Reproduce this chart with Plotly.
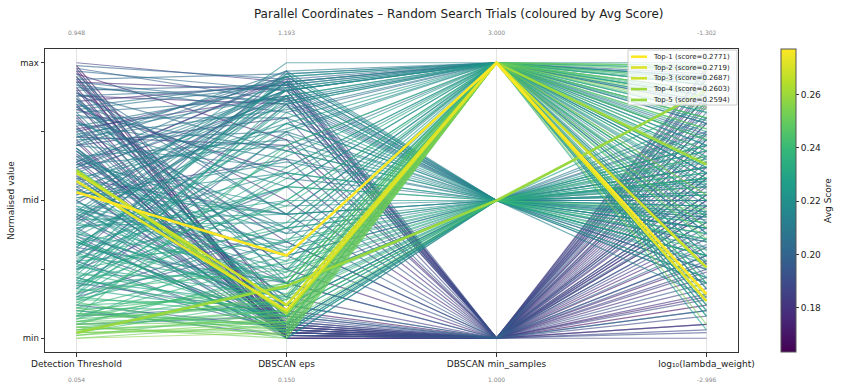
import plotly.graph_objects as go
from plotly.colors import sample_colorscale

# ---------------- data (normalised positions) ----------------
axis_names = ["Detection Threshold", "DBSCAN eps", "DBSCAN min_samples", "log₁₀(lambda_weight)"]
axis_max_labels = ["0.948", "1.193", "3.000", "-1.302"]
axis_min_labels = ["0.054", "0.150", "1.000", "-2.996"]
ms_levels = [1, 2, 3]

# ---- trials with min_samples = 1 ----
dt_ms1 = [
    0.98, 0.95, 0.90, 0.85, 0.80, 0.77, 0.72, 0.68, 0.64, 0.60,
    0.55, 0.50, 0.45, 0.40, 0.35, 0.28, 0.20, 0.12, 0.93, 0.88,
    0.75, 0.70, 0.62, 0.96, 0.83, 0.58, 0.47, 0.33, 0.25, 0.15,
    0.08, 0.42, 0.66, 0.99, 0.52, 0.30, 0.18, 0.87,
    0.97, 0.91, 0.86, 0.81, 0.76, 0.71, 0.67, 0.63, 0.59, 0.54,
    0.49, 0.44, 0.38, 0.32, 0.27, 0.22, 0.16, 0.10, 0.05, 0.89,
    0.79, 0.73, 0.65, 0.56, 0.43, 0.37, 0.94, 0.84, 0.69, 0.61,
]
eps_ms1 = [
    0.02, 0.00, 0.04, 0.01, 0.06, 0.03, 0.00, 0.08, 0.02, 0.05,
    0.01, 0.07, 0.03, 0.00, 0.05, 0.02, 0.09, 0.04, 0.90, 0.85,
    0.93, 0.80, 0.95, 0.72, 0.60, 0.45, 0.30, 0.20, 0.55, 0.35,
    0.12, 0.88, 0.15, 0.10, 0.65, 0.97, 0.75, 0.25,
    0.01, 0.03, 0.92, 0.00, 0.88, 0.02, 0.05, 0.94, 0.01, 0.04,
    0.90, 0.02, 0.12, 0.06, 0.85, 0.03, 0.40, 0.01, 0.08, 0.50,
    0.00, 0.70, 0.03, 0.20, 0.93, 0.01, 0.04, 0.35, 0.02, 0.87,
]
lam_ms1 = [
    0.45, 0.12, 0.80, 0.33, 0.62, 0.05, 0.91, 0.25, 0.70, 0.50,
    0.18, 0.85, 0.40, 0.58, 0.08, 0.75, 0.30, 0.95, 0.22, 0.66,
    0.48, 0.03, 0.88, 0.36, 0.55, 0.14, 0.72, 0.42, 0.60, 0.10,
    0.82, 0.28, 0.98, 0.52, 0.00, 0.92, 0.46, 0.78,
    0.60, 0.27, 0.84, 0.15, 0.50, 0.94, 0.38, 0.72, 0.05, 0.56,
    0.30, 0.88, 0.64, 0.20, 0.45, 0.78, 0.10, 0.52, 0.34, 0.68,
    0.97, 0.24, 0.42, 0.86, 0.58, 0.02, 0.74, 0.16, 0.48, 0.90,
]
score_ms1 = [
    0.170, 0.166, 0.175, 0.172, 0.180, 0.178, 0.176, 0.185, 0.182, 0.188,
    0.184, 0.190, 0.186, 0.192, 0.189, 0.194, 0.196, 0.193, 0.178, 0.181,
    0.183, 0.187, 0.185, 0.174, 0.179, 0.190, 0.193, 0.197, 0.195, 0.198,
    0.200, 0.191, 0.184, 0.168, 0.188, 0.192, 0.196, 0.177,
    0.171, 0.174, 0.180, 0.176, 0.183, 0.179, 0.182, 0.186, 0.184, 0.187,
    0.189, 0.188, 0.192, 0.194, 0.191, 0.195, 0.197, 0.198, 0.201, 0.178,
    0.177, 0.184, 0.183, 0.189, 0.190, 0.191, 0.169, 0.180, 0.181, 0.186,
]

# ---- trials with min_samples = 2 ----
dt_ms2 = [
    0.90, 0.82, 0.75, 0.70, 0.65, 0.58, 0.52, 0.46, 0.40, 0.36,
    0.30, 0.26, 0.22, 0.18, 0.14, 0.10, 0.06, 0.03, 0.95, 0.86,
    0.78, 0.62, 0.55, 0.48, 0.43, 0.33, 0.28, 0.20, 0.12, 0.08,
    0.68, 0.38, 0.50, 0.16, 0.92, 0.04, 0.72, 0.24,
    0.98, 0.93, 0.88, 0.84, 0.80, 0.76, 0.73, 0.69, 0.66, 0.63,
    0.60, 0.57, 0.54, 0.51, 0.47, 0.44, 0.41, 0.37, 0.34, 0.31,
    0.27, 0.23, 0.19, 0.15, 0.11, 0.07, 0.02, 0.85, 0.74, 0.64,
    0.53, 0.45, 0.35, 0.25, 0.13, 0.05, 0.89, 0.59, 0.39, 0.21,
]
eps_ms2 = [
    0.92, 0.87, 0.05, 0.95, 0.40, 0.10, 0.85, 0.25, 0.60, 0.02,
    0.70, 0.15, 0.50, 0.08, 0.32, 0.04, 0.18, 0.06, 0.12, 0.30,
    0.65, 0.90, 0.78, 0.00, 0.45, 0.88, 0.35, 0.82, 0.55, 0.28,
    0.20, 0.93, 0.03, 0.68, 0.45, 0.10, 0.75, 0.96,
    0.86, 0.05, 0.91, 0.22, 0.80, 0.38, 0.95, 0.12, 0.72, 0.48,
    0.03, 0.88, 0.30, 0.64, 0.08, 0.93, 0.42, 0.16, 0.78, 0.55,
    0.02, 0.84, 0.27, 0.60, 0.10, 0.36, 0.14, 0.58, 0.00, 0.97,
    0.45, 0.20, 0.05, 0.74, 0.40, 0.24, 0.68, 0.33, 0.90, 0.12,
]
lam_ms2 = [
    0.40, 0.55, 0.62, 0.30, 0.48, 0.70, 0.20, 0.58, 0.35, 0.45,
    0.65, 0.52, 0.28, 0.60, 0.42, 0.38, 0.55, 0.47, 0.75, 0.25,
    0.50, 0.68, 0.40, 0.33, 0.72, 0.58, 0.22, 0.46, 0.62, 0.36,
    0.80, 0.15, 0.90, 0.30, 0.53, 0.66, 0.43, 0.57,
    0.35, 0.58, 0.46, 0.70, 0.25, 0.52, 0.62, 0.40, 0.55, 0.30,
    0.66, 0.44, 0.50, 0.20, 0.74, 0.38, 0.57, 0.48, 0.27, 0.64,
    0.42, 0.53, 0.36, 0.60, 0.45, 0.70, 0.32, 0.50, 0.78, 0.22,
    0.56, 0.40, 0.68, 0.48, 0.30, 0.58, 0.62, 0.44, 0.52, 0.85,
]
score_ms2 = [
    0.200, 0.205, 0.198, 0.208, 0.212, 0.215, 0.210, 0.220, 0.218, 0.214,
    0.222, 0.226, 0.224, 0.230, 0.232, 0.236, 0.240, 0.244, 0.196, 0.203,
    0.207, 0.211, 0.216, 0.219, 0.221, 0.217, 0.228, 0.225, 0.233, 0.238,
    0.209, 0.213, 0.217, 0.229, 0.201, 0.242, 0.206, 0.223,
    0.198, 0.202, 0.204, 0.207, 0.206, 0.209, 0.205, 0.212, 0.210, 0.213,
    0.216, 0.211, 0.215, 0.214, 0.220, 0.215, 0.218, 0.223, 0.219, 0.222,
    0.228, 0.221, 0.227, 0.226, 0.232, 0.234, 0.240, 0.204, 0.212, 0.208,
    0.216, 0.221, 0.226, 0.222, 0.231, 0.237, 0.203, 0.213, 0.217, 0.227,
]

# ---- trials with min_samples = 3 ----
dt_ms3 = [
    0.97, 0.92, 0.88, 0.84, 0.79, 0.74, 0.69, 0.63, 0.57, 0.53,
    0.49, 0.44, 0.39, 0.34, 0.31, 0.27, 0.23, 0.19, 0.15, 0.11,
    0.09, 0.07, 0.05, 0.04, 0.02, 0.01, 0.00, 0.06, 0.03, 0.10,
    0.13, 0.17, 0.21, 0.29, 0.37, 0.42, 0.51, 0.60, 0.66, 0.71,
    0.76, 0.81, 0.86, 0.94, 1.00, 0.46, 0.32, 0.25, 0.14, 0.08,
    0.55, 0.02, 0.00,
    0.99, 0.96, 0.91, 0.87, 0.83, 0.78, 0.73, 0.68, 0.64, 0.61,
    0.58, 0.54, 0.50, 0.47, 0.43, 0.40, 0.36, 0.33, 0.30, 0.26,
    0.24, 0.20, 0.16, 0.12, 0.09, 0.07, 0.05, 0.04, 0.03, 0.01,
    0.02, 0.06, 0.08, 0.11, 0.14, 0.18, 0.22, 0.28, 0.35, 0.41,
    0.48, 0.56, 0.62, 0.70, 0.77, 0.82, 0.89, 0.93, 0.45, 0.38,
]
eps_ms3 = [
    0.90, 0.82, 0.05, 0.93, 0.40, 0.88, 0.15, 0.70, 0.02, 0.92,
    0.35, 0.80, 0.10, 0.55, 0.05, 0.95, 0.22, 0.62, 0.08, 0.30,
    0.03, 0.12, 0.06, 0.00, 0.04, 0.09, 0.02, 0.14, 0.07, 0.18,
    0.01, 0.25, 0.85, 0.48, 0.75, 0.20, 0.60, 0.90, 0.30, 0.97,
    0.12, 0.68, 0.25, 0.96, 0.93, 1.00, 0.90, 0.40, 0.50, 0.70,
    0.45, 0.20, 0.05,
    0.94, 0.20, 0.86, 0.07, 0.92, 0.55, 0.83, 0.04, 0.90, 0.38,
    0.76, 0.10, 0.95, 0.28, 0.86, 0.50, 0.02, 0.91, 0.18, 0.66,
    0.08, 0.42, 0.88, 0.15, 0.05, 0.22, 0.10, 0.01, 0.16, 0.06,
    0.03, 0.08, 0.20, 0.00, 0.12, 0.58, 0.05, 0.78, 0.14, 0.93,
    0.32, 0.87, 0.05, 0.62, 0.91, 0.10, 0.45, 0.85, 0.96, 0.24,
]
lam_ms3 = [
    0.85, 0.60, 0.95, 0.30, 0.72, 0.12, 0.88, 0.45, 0.65, 0.92,
    0.20, 0.78, 0.50, 0.98, 0.35, 0.70, 0.10, 0.82, 0.58, 0.93,
    0.25, 0.76, 0.40, 0.87, 0.15, 0.63, 0.52, 0.97, 0.05, 0.68,
    0.83, 0.44, 0.60, 0.28, 0.90, 0.08, 0.55, 0.18, 1.00, 0.62,
    0.38, 0.95, 0.48, 0.74, 0.27, 0.80, 0.66, 0.88, 0.99, 0.92,
    0.72, 0.80, 0.90,
    0.78, 0.42, 0.96, 0.60, 0.18, 0.85, 0.50, 0.92, 0.32, 0.70,
    0.08, 0.88, 0.54, 0.75, 0.22, 0.94, 0.62, 0.40, 0.86, 0.12,
    0.98, 0.56, 0.30, 0.80, 0.90, 0.46, 0.72, 0.99, 0.36, 0.84,
    0.64, 0.94, 0.20, 0.76, 0.50, 0.66, 0.89, 0.03, 0.73, 0.44,
    0.95, 0.26, 0.82, 0.58, 0.10, 0.68, 0.86, 0.38, 0.52, 0.79,
]
score_ms3 = [
    0.202, 0.205, 0.208, 0.206, 0.212, 0.210, 0.216, 0.214, 0.222, 0.212,
    0.224, 0.218, 0.228, 0.226, 0.232, 0.220, 0.234, 0.230, 0.238, 0.236,
    0.244, 0.246, 0.250, 0.252, 0.255, 0.248, 0.257, 0.247, 0.253, 0.243,
    0.245, 0.240, 0.227, 0.231, 0.222, 0.229, 0.219, 0.213, 0.217, 0.209,
    0.214, 0.207, 0.210, 0.203, 0.185, 0.216, 0.221, 0.233, 0.235, 0.239,
    0.220, 0.249, 0.251,
    0.200, 0.206, 0.204, 0.210, 0.207, 0.211, 0.209, 0.218, 0.213, 0.217,
    0.215, 0.222, 0.216, 0.223, 0.218, 0.224, 0.231, 0.222, 0.229, 0.227,
    0.235, 0.231, 0.228, 0.239, 0.244, 0.241, 0.247, 0.253, 0.249, 0.254,
    0.251, 0.248, 0.242, 0.246, 0.240, 0.232, 0.237, 0.226, 0.230, 0.219,
    0.224, 0.214, 0.222, 0.213, 0.208, 0.214, 0.209, 0.205, 0.218, 0.226,
]

# ---- top-5 trials ----
top_labels = ["Top-1", "Top-2", "Top-3", "Top-4", "Top-5"]
top_scores = [0.2771, 0.2719, 0.2687, 0.2603, 0.2594]
top_dt = [0.53, 0.57, 0.60, 0.61, 0.02]
top_eps = [0.30, 0.10, 0.12, 0.09, 0.19]
top_ms = [3, 3, 3, 3, 2]
top_lam = [0.16, 0.135, 0.257, 0.63, 0.90]

cmin, cmax = 0.1635, 0.2771
ms_min, ms_max = min(ms_levels), max(ms_levels)

# assemble trials
trials = []
for ms, dts, epss, lams, scs in [(1, dt_ms1, eps_ms1, lam_ms1, score_ms1),
                                 (2, dt_ms2, eps_ms2, lam_ms2, score_ms2),
                                 (3, dt_ms3, eps_ms3, lam_ms3, score_ms3)]:
    n = min(len(dts), len(epss), len(lams), len(scs))
    for i in range(n):
        trials.append((dts[i], epss[i], ms, lams[i], scs[i]))


def col(s):
    t = (s - cmin) / (cmax - cmin)
    t = min(max(t, 0.0), 1.0)
    return sample_colorscale("Viridis", [t])[0]


xs = [0, 1, 2, 3]
fig = go.Figure()

for dt, ep, ms, lam, sc in sorted(trials, key=lambda r: r[4]):
    ys = [dt, ep, (ms - ms_min) / (ms_max - ms_min), lam]
    fig.add_trace(go.Scatter(
        x=xs, y=ys, mode="lines", line=dict(color=col(sc), width=1.2),
        opacity=0.6, showlegend=False, hoverinfo="skip"))

for k in range(len(top_scores) - 1, -1, -1):
    ys = [top_dt[k], top_eps[k], (top_ms[k] - ms_min) / (ms_max - ms_min), top_lam[k]]
    fig.add_trace(go.Scatter(
        x=xs, y=ys, mode="lines", line=dict(color=col(top_scores[k]), width=2.6),
        name=f"{top_labels[k]} (score={top_scores[k]:.4f})", showlegend=False))

# colour bar
fig.add_trace(go.Scatter(
    x=[None], y=[None], mode="markers", showlegend=False, hoverinfo="skip",
    marker=dict(colorscale="Viridis", cmin=cmin, cmax=cmax, color=[cmin], showscale=True,
                colorbar=dict(x=1.062, xanchor="left", y=0.5, yanchor="middle", len=1.0, lenmode="fraction",
                              ypad=0, xpad=0, thickness=15, outlinewidth=1, outlinecolor="#555",
                              tickvals=[0.18, 0.20, 0.22, 0.24, 0.26],
                              ticktext=["0.18", "0.20", "0.22", "0.24", "0.26"],
                              ticks="outside", ticklen=3, tickcolor="#333",
                              tickfont=dict(size=9, color="#222"),
                              title=dict(text="Avg Score", side="right", font=dict(size=9, color="#222"))))))

for j in range(4):
    fig.add_annotation(x=xs[j], y=1.053, xref="x", yref="paper", text=axis_max_labels[j], showarrow=False,
                       font=dict(size=6, color="#888"), yanchor="middle")
    fig.add_annotation(x=xs[j], y=-0.092, xref="x", yref="paper", text=axis_min_labels[j], showarrow=False,
                       font=dict(size=6, color="#888"), yanchor="middle")

# legend box (matplotlib-style compact legend), in paper coordinates
W, H, L, B = 693.0, 303.0, 45.0, 352.0
px = lambda v: (v - L) / W
py = lambda v: (B - v) / H
fig.add_shape(type="rect", xref="paper", yref="paper", x0=px(628), x1=px(737), y0=py(105), y1=py(50),
              fillcolor="rgba(255,255,255,0.8)", line=dict(color="#cccccc", width=1), layer="above")
for k in range(len(top_scores)):
    yk = 56.7 + 10.8 * k
    fig.add_shape(type="line", xref="paper", yref="paper", x0=px(631), x1=px(647), y0=py(yk), y1=py(yk),
                  line=dict(color=col(top_scores[k]), width=2.6), layer="above")
    fig.add_annotation(x=px(651), y=py(yk), xref="paper", yref="paper", xanchor="left", yanchor="middle",
                       text=f"{top_labels[k]} (score={top_scores[k]:.4f})", showarrow=False,
                       font=dict(size=7, color="#222"))

fig.update_layout(
    width=841, height=389,
    margin=dict(l=45, r=103, t=49, b=37, autoexpand=False),
    paper_bgcolor="white", plot_bgcolor="white",
    font=dict(family="DejaVu Sans", size=9, color="#222"),
    showlegend=False,
    title=dict(text="Parallel Coordinates – Random Search Trials (coloured by Avg Score)",
               x=0.597, xref="paper", xanchor="center", y=0.965, yanchor="middle",
               font=dict(size=12, color="#222")),
    xaxis=dict(range=[-0.15, 3.15], tickvals=xs, ticktext=axis_names, showgrid=True, gridcolor="#e3e3e3",
               gridwidth=1, zeroline=False, showline=True, linecolor="#333", linewidth=1, mirror=True,
               ticks="outside", ticklen=3.5, tickcolor="#333", tickfont=dict(size=9, color="#222")),
    yaxis=dict(range=[-0.05, 1.05], tickvals=[0, 0.25, 0.5, 0.75, 1], ticktext=["min", "", "mid", "", "max"],
               showgrid=False, zeroline=False, showline=True, linecolor="#333", linewidth=1, mirror=True,
               ticks="outside", ticklen=3.5, tickcolor="#333", tickfont=dict(size=8.5, color="#222"),
               title=dict(text="Normalised value", font=dict(size=9, color="#222"), standoff=4)),
)

fig.write_html("out.html")
